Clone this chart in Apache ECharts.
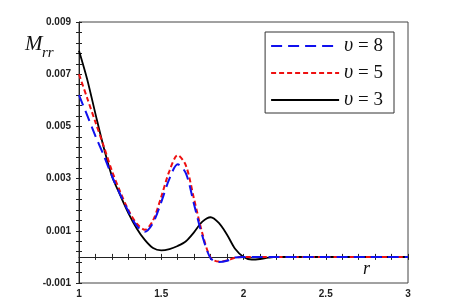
<!DOCTYPE html>
<html><head><meta charset="utf-8">
<script src="https://cdn.jsdelivr.net/npm/echarts@6/dist/echarts.min.js"></script>
<style>html,body{margin:0;padding:0;background:#fff}#c{width:457px;height:306px}</style>
</head><body><div id="c"></div>
<script>
var rValues = [1.00,1.05,1.10,1.15,1.20,1.25,1.30,1.35,1.40,1.45,1.50,1.55,1.60,1.65,1.70,1.75,1.80,1.85,1.90,1.95,2.00,2.05,2.10,2.15,2.20,2.50,3.00];
var v8 = [0.0062,0.00542,0.00463,0.0039,0.0031,0.0024,0.00175,0.0012,0.00096,0.0013,0.0021,0.0030,0.00355,0.0032,0.0020,0.0008,-0.00005,-0.0002,-0.00015,-0.00002,0,0,0,0,0,0,0];
var v5 = [0.0070,0.00608,0.00516,0.00425,0.0033,0.0025,0.0018,0.00128,0.00104,0.0014,0.0023,0.0033,0.0039,0.0035,0.0022,0.0009,-0.00003,-0.00018,-0.00014,-0.00003,0,0,0,0,0,0,0];
var v3 = [0.0079,0.0068,0.00548,0.0042,0.0031,0.00237,0.00168,0.0011,0.00065,0.00034,0.00025,0.0003,0.00042,0.0006,0.00095,0.00135,0.00152,0.0013,0.00085,0.0003,0,-0.0001,-0.00008,-0.00003,0,0,0];
var seriesNames = ['8','5','3'];
var xTicks = ['1','1.5','2','2.5','3'];
var yTicks = ['-0.001','0.001','0.003','0.005','0.007','0.009'];

function pairs(ys){ return rValues.map(function(r,i){return [r, ys[i]];}); }
var chart = echarts.init(document.getElementById('c'), null, {renderer:'canvas'});
var tickFont = {fontFamily:'Liberation Sans, Arial', fontWeight:'bold', fontSize:10, color:'#222'};
chart.setOption({
  animation:false,
  grid:{left:79,right:49,top:22,bottom:23,show:true,borderColor:'#444',borderWidth:1,backgroundColor:'transparent'},
  legend:{
    orient:'vertical', right:63, top:32, itemWidth:68, itemHeight:14, itemGap:7,
    padding:[4,11,3,5], borderColor:'#333', borderWidth:1, backgroundColor:'#fff',
    itemStyle:{opacity:0},
    data:['v8','v5','v3'],
    formatter:function(n){return '{i|υ} = '+n.slice(1);},
    textStyle:{fontFamily:'Liberation Serif, serif', fontSize:19, lineHeight:16, color:'#111',
      rich:{i:{fontFamily:'Liberation Serif, serif', fontStyle:'italic', fontSize:20, lineHeight:16}}}
  },
  xAxis:[{
    type:'value', min:1, max:3, interval:0.5, position:'bottom',
    axisLine:{show:true,onZero:true,lineStyle:{color:'#222',width:1}},
    axisTick:{show:true,length:3,lineStyle:{color:'#222'}},
    minorTick:{show:true,splitNumber:5,length:3,lineStyle:{color:'#222'}},
    splitLine:{show:false},
    axisLabel:Object.assign({margin:6,showMinLabel:true,showMaxLabel:true,
      formatter:function(v){var s=String(+v.toFixed(2));return xTicks.indexOf(s)>=0?s:'';}},tickFont)
  },{
    type:'value', min:1, max:3, interval:0.5, position:'top',
    axisLine:{show:false,onZero:true},
    axisTick:{show:true,length:3,lineStyle:{color:'#222'}},
    minorTick:{show:true,splitNumber:5,length:3,lineStyle:{color:'#222'}},
    splitLine:{show:false}, axisLabel:{show:false}
  }],
  yAxis:[{
    type:'value', min:-0.001, max:0.009, interval:0.002, position:'left',
    axisLine:{show:true,onZero:false,lineStyle:{color:'#222',width:1}},
    axisTick:{show:true,length:3,lineStyle:{color:'#222'}},
    minorTick:{show:true,splitNumber:5,length:3,lineStyle:{color:'#222'}},
    splitLine:{show:false},
    axisLabel:Object.assign({margin:8,formatter:function(v){var s=(+v).toFixed(3);return yTicks.indexOf(s)>=0?s:'';}},tickFont)
  },{
    type:'value', min:-0.001, max:0.009, interval:0.002, position:'left',
    axisLine:{show:false,onZero:false},
    axisTick:{show:true,inside:true,length:3,lineStyle:{color:'#222'}},
    minorTick:{show:true,splitNumber:5,length:3,lineStyle:{color:'#222'}},
    splitLine:{show:false}, axisLabel:{show:false}
  }],
  series:[
    {name:'v8',type:'line',smooth:0.3,symbol:'none',data:pairs(v8),z:4,
     lineStyle:{color:'#1010ee',width:2,type:[11,6]},itemStyle:{color:'#1010ee'}},
    {name:'v5',type:'line',smooth:0.3,symbol:'none',data:pairs(v5),z:3,
     lineStyle:{color:'#ee1010',width:2,type:[5,3]},itemStyle:{color:'#ee1010'}},
    {name:'v3',type:'line',smooth:0.3,symbol:'none',data:pairs(v3),z:2,
     lineStyle:{color:'#000',width:1.8,type:'solid'},itemStyle:{color:'#000'}}
  ],
  graphic:[
    {type:'text',left:25,top:34,style:{text:'M',fontFamily:'Liberation Serif, serif',fontStyle:'italic',fontSize:21,fill:'#111'}},
    {type:'text',left:42,top:46,style:{text:'rr',fontFamily:'Liberation Serif, serif',fontStyle:'italic',fontSize:15,fill:'#111'}},
    {type:'text',left:363,top:260,style:{text:'r',fontFamily:'Liberation Serif, serif',fontStyle:'italic',fontSize:18,fill:'#111'}}
  ]
});
</script></body></html>
